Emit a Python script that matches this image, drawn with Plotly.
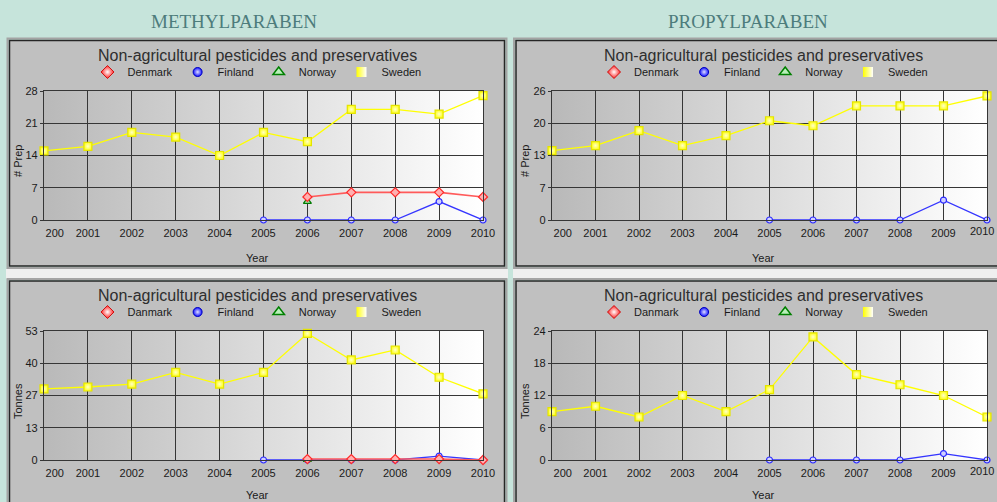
import base64
import plotly.graph_objects as go

W, H = 997, 502

# ---------------- data ----------------
YEARS = [2000, 2001, 2002, 2003, 2004, 2005, 2006, 2007, 2008, 2009, 2010]
YEAR_LABELS = ["200", "2001", "2002", "2003", "2004", "2005", "2006", "2007", "2008", "2009", "2010"]

# Methylparaben - number of preparations
methyl_prep_sweden = [15, 16, 19, 18, 14, 19, 17, 24, 24, 23, 27]
methyl_prep_denmark = [None, None, None, None, None, None, 5, 6, 6, 6, 5]
methyl_prep_finland = [None, None, None, None, None, 0, 0, 0, 0, 4, 0]
methyl_prep_norway = [None, None, None, None, None, None, 4, None, None, None, None]

# Propylparaben - number of preparations
propyl_prep_sweden = [14, 15, 18, 15, 17, 20, 19, 23, 23, 23, 25]
propyl_prep_denmark = [None] * 11
propyl_prep_finland = [None, None, None, None, None, 0, 0, 0, 0, 4, 0]
propyl_prep_norway = [None] * 11

# Methylparaben - tonnes
methyl_tonnes_sweden = [29.2, 30, 31.2, 36, 31.2, 36, 52, 41.1, 45.2, 34, 27.2]
methyl_tonnes_denmark = [None, None, None, None, None, None, 0.4, 0.4, 0.4, 0.4, 0]
methyl_tonnes_finland = [None, None, None, None, None, 0, 0, 0, 0, 1.6, 0]
methyl_tonnes_norway = [None, None, None, None, None, None, 0.1, None, None, None, None]

# Propylparaben - tonnes
propyl_tonnes_sweden = [9, 10, 8, 12, 9, 13.1, 22.9, 15.9, 14, 12, 8]
propyl_tonnes_denmark = [None] * 11
propyl_tonnes_finland = [None, None, None, None, None, 0, 0, 0, 0, 1.2, 0]
propyl_tonnes_norway = [None] * 11

# y-axis ticks
methyl_prep_ticks = [0, 7, 14, 21, 28]
methyl_prep_ticklabels = ["0", "7", "14", "21", "28"]
propyl_prep_ticks = [0, 6.5, 13, 19.5, 26]
propyl_prep_ticklabels = ["0", "7", "13", "20", "26"]
methyl_tonnes_ticks = [0, 13.25, 26.5, 39.75, 53]
methyl_tonnes_ticklabels = ["0", "13", "27", "40", "53"]
propyl_tonnes_ticks = [0, 6, 12, 18, 24]
propyl_tonnes_ticklabels = ["0", "6", "12", "18", "24"]

CHART_TITLE = "Non-agricultural pesticides and preservatives"
HEADINGS = ["METHYLPARABEN", "PROPYLPARABEN"]

# ---------------- styling / layout ----------------
FONT = "Liberation Sans"
PAGE_BG = "#c6e4db"
PANEL_BG = "#c0c0c0"
GRID = "#363636"
NBSP = "\u00a0"

def fx(p):
    return p / W

def fy(p):
    return 1 - p / H

x_ticktext_left = [NBSP * 7 + YEAR_LABELS[0]] + YEAR_LABELS[1:]
# right-hand panels: last label is drawn as an edge-anchored annotation so it stays on the page
x_ticktext_right = [NBSP * 7 + YEAR_LABELS[0]] + YEAR_LABELS[1:-1] + [""]

panels = [
    dict(ax="", leg="legend", plot=(44, 91, 483, 220), cx=257, top=55.5, legy=72,
         ytitle="# Prep", ytx=18, yty=161, xty=258, denmark="Denmark", right=False,
         ticks=methyl_prep_ticks, ticklabels=methyl_prep_ticklabels,
         data=(methyl_prep_denmark, methyl_prep_finland, methyl_prep_norway, methyl_prep_sweden)),
    dict(ax="2", leg="legend2", plot=(552, 91, 987, 220), cx=763.5, top=55.5, legy=72,
         ytitle="# Prep", ytx=525, yty=161, xty=258, denmark="Denmark", right=True,
         ticks=propyl_prep_ticks, ticklabels=propyl_prep_ticklabels,
         data=(propyl_prep_denmark, propyl_prep_finland, propyl_prep_norway, propyl_prep_sweden)),
    dict(ax="3", leg="legend3", plot=(44, 331, 483, 460), cx=257, top=295.5, legy=312,
         ytitle="Tonnes", ytx=18, yty=401, xty=494.5, denmark="Danmark", right=False,
         ticks=methyl_tonnes_ticks, ticklabels=methyl_tonnes_ticklabels,
         data=(methyl_tonnes_denmark, methyl_tonnes_finland, methyl_tonnes_norway, methyl_tonnes_sweden)),
    dict(ax="4", leg="legend4", plot=(552, 331, 987, 460), cx=763.5, top=295.5, legy=312,
         ytitle="Tonnes", ytx=525, yty=401, xty=494.5, denmark="Danmark", right=True,
         ticks=propyl_tonnes_ticks, ticklabels=propyl_tonnes_ticklabels,
         data=(propyl_tonnes_denmark, propyl_tonnes_finland, propyl_tonnes_norway, propyl_tonnes_sweden)),
]

grad_svg = ('<svg xmlns="http://www.w3.org/2000/svg" width="200" height="20" viewBox="0 0 200 20" '
            'preserveAspectRatio="none"><defs><linearGradient id="g" x1="0" y1="0" x2="1" y2="0">'
            '<stop offset="0" stop-color="#b9b9b9"/><stop offset="1" stop-color="#ffffff"/>'
            '</linearGradient></defs><rect width="200" height="20" fill="url(#g)"/></svg>')
GRAD_SRC = "data:image/svg+xml;base64," + base64.b64encode(grad_svg.encode()).decode()

fig = go.Figure()
layout = dict(
    width=W, height=H, autosize=False,
    margin=dict(l=0, r=0, t=0, b=0, pad=0, autoexpand=False),
    paper_bgcolor=PAGE_BG, plot_bgcolor="rgba(0,0,0,0)",
    font=dict(family=FONT, size=11, color="#1a1a1a"),
    showlegend=True,
)
annotations = []
shapes = []
images = []

# page panels (frames)
frames = [
    (9.5, 40.5, 504.5, 266),     # top-left
    (516, 40.5, 1012, 266),      # top-right
    (9.5, 281, 504.5, 515),      # bottom-left
    (516, 281, 1012, 515),       # bottom-right
]
# light strip between rows
shapes.append(dict(type="rect", xref="paper", yref="paper", layer="below",
                   x0=fx(6), x1=fx(508), y0=fy(269), y1=fy(279),
                   fillcolor="#efefef", line=dict(width=0)))
shapes.append(dict(type="rect", xref="paper", yref="paper", layer="below",
                   x0=fx(513), x1=fx(1000), y0=fy(269), y1=fy(279),
                   fillcolor="#efefef", line=dict(width=0)))
for (x0, y0, x1, y1) in frames:
    shapes.append(dict(type="rect", xref="paper", yref="paper", layer="below",
                       x0=fx(x0 - 2), x1=fx(x1 + 2), y0=fy(y0 - 2), y1=fy(y1 + 2),
                       fillcolor="rgba(0,0,0,0)", line=dict(color="#a4a4a4", width=2)))
    shapes.append(dict(type="rect", xref="paper", yref="paper", layer="below",
                       x0=fx(x0), x1=fx(x1), y0=fy(y0), y1=fy(y1),
                       fillcolor=PANEL_BG, line=dict(color="#262626", width=1.5)))

# headings
for text, cx in zip(HEADINGS, [234, 748]):
    annotations.append(dict(text=text, x=fx(cx), y=fy(22), xref="paper", yref="paper",
                            showarrow=False, xanchor="center", yanchor="middle",
                            font=dict(family="Liberation Serif", size=19, color="#4d7c7c")))

for p in panels:
    ax = p["ax"]
    xname, yname = "x" + ax, "y" + ax
    x0, y0, x1, y1 = p["plot"]
    dk, fi, no, sw = p["data"]
    leg = p["leg"]

    # series
    fig.add_trace(go.Scatter(x=YEARS, y=fi, xaxis=xname, yaxis=yname, mode="lines+markers",
                             name="Finland", showlegend=False, cliponaxis=False,
                             line=dict(color="#3535ff", width=1.3),
                             marker=dict(symbol="circle", size=6, color="#d0d0ff",
                                         line=dict(color="#2a2aff", width=1.2))))
    fig.add_trace(go.Scatter(x=YEARS, y=no, xaxis=xname, yaxis=yname, mode="lines+markers",
                             name="Norway", showlegend=False, cliponaxis=False,
                             line=dict(color="#008a00", width=1.3),
                             marker=dict(symbol="triangle-up", size=7, color="#b0e8b0",
                                         line=dict(color="#007a00", width=1.2))))
    fig.add_trace(go.Scatter(x=YEARS, y=dk, xaxis=xname, yaxis=yname, mode="lines+markers",
                             name=p["denmark"], showlegend=False, cliponaxis=False,
                             line=dict(color="#ff5a5a", width=1.6),
                             marker=dict(symbol="diamond", size=7, color="#ffb0b0",
                                         line=dict(color="#ff2a2a", width=1.2))))
    fig.add_trace(go.Scatter(x=YEARS, y=sw, xaxis=xname, yaxis=yname, mode="lines+markers",
                             name="Sweden", showlegend=False, cliponaxis=False,
                             line=dict(color="#ffff00", width=1.3),
                             marker=dict(symbol="square", size=8, color="#ffff20",
                                         gradient=dict(type="radial", color="#ffffc8"),
                                         line=dict(color="#e4e400", width=1.2))))

    # legend entries (marker only, as in the original)
    fig.add_trace(go.Scatter(x=[None], y=[None], xaxis=xname, yaxis=yname, mode="markers",
                             name=p["denmark"], legend=leg,
                             marker=dict(symbol="diamond", size=10, color="#ff2020",
                                         gradient=dict(type="radial", color="#ffffff"),
                                         line=dict(color="#d01010", width=1))))
    fig.add_trace(go.Scatter(x=[None], y=[None], xaxis=xname, yaxis=yname, mode="markers",
                             name="Finland", legend=leg,
                             marker=dict(symbol="circle", size=9, color="#1515ff",
                                         gradient=dict(type="radial", color="#e0e0ff"),
                                         line=dict(color="#0000c0", width=1))))
    fig.add_trace(go.Scatter(x=[None], y=[None], xaxis=xname, yaxis=yname, mode="markers",
                             name="Norway", legend=leg,
                             marker=dict(symbol="triangle-up", size=10, color="#b8f0b8",
                                         line=dict(color="#008000", width=1.5))))
    fig.add_trace(go.Scatter(x=[None], y=[None], xaxis=xname, yaxis=yname, mode="markers",
                             name="Sweden", legend=leg,
                             marker=dict(symbol="square", size=10, color="#ffff00",
                                         gradient=dict(type="horizontal", color="#ffffff"),
                                         line=dict(width=0))))

    layout[leg] = dict(orientation="h", xref="paper", yref="paper",
                       x=fx(p["cx"]), y=fy(p["legy"]), xanchor="center", yanchor="middle",
                       bgcolor="rgba(0,0,0,0)", borderwidth=0,
                       font=dict(family=FONT, size=11, color="#1a1a1a"),
                       itemwidth=30, tracegroupgap=0)

    xkey = "xaxis" + ax
    ykey = "yaxis" + ax
    layout[xkey] = dict(domain=[fx(x0), fx(x1)], anchor=yname, range=[YEARS[0], YEARS[-1]],
                        tickmode="array", tickvals=YEARS,
                        ticktext=x_ticktext_right if p["right"] else x_ticktext_left,
                        showgrid=True, gridcolor=GRID, gridwidth=1.3,
                        showline=True, mirror=True, linecolor=GRID, linewidth=1.3,
                        zeroline=False, ticks="", fixedrange=True, automargin=False,
                        ticklabeloverflow="allow",
                        tickfont=dict(family=FONT, size=11, color="#1a1a1a"),
                        ticklabelstandoff=3)
    layout[ykey] = dict(domain=[fy(y1), fy(y0)], anchor=xname,
                        range=[p["ticks"][0], p["ticks"][-1]],
                        tickmode="array", tickvals=p["ticks"], ticktext=p["ticklabels"],
                        showgrid=True, gridcolor=GRID, gridwidth=1.3,
                        showline=True, mirror=True, linecolor=GRID, linewidth=1.3,
                        zeroline=False, ticks="outside", ticklen=3, tickcolor=GRID,
                        fixedrange=True, automargin=False, ticklabeloverflow="allow",
                        tickfont=dict(family=FONT, size=11, color="#1a1a1a"))

    if p["right"]:
        annotations.append(dict(text=YEAR_LABELS[-1], xref=xname, x=YEARS[-1],
                                yref=yname + " domain", y=0, xanchor="right", yanchor="top",
                                xshift=9, yshift=-3, showarrow=False, borderpad=1,
                                font=dict(family=FONT, size=11, color="#1a1a1a")))

    images.append(dict(source=GRAD_SRC, xref=xname + " domain", yref=yname + " domain",
                       x=0, y=1, sizex=1, sizey=1, xanchor="left", yanchor="top",
                       sizing="stretch", layer="below"))

    annotations.append(dict(text=CHART_TITLE, x=fx(p["cx"]), y=fy(p["top"]),
                            xref="paper", yref="paper", showarrow=False,
                            xanchor="center", yanchor="middle",
                            font=dict(family=FONT, size=16, color="#2e2e2e")))
    annotations.append(dict(text=p["ytitle"], x=fx(p["ytx"]), y=fy(p["yty"]),
                            xref="paper", yref="paper", showarrow=False, textangle=-90,
                            xanchor="center", yanchor="middle",
                            font=dict(family=FONT, size=11, color="#1a1a1a")))
    annotations.append(dict(text="Year", x=fx(p["cx"]), y=fy(p["xty"]),
                            xref="paper", yref="paper", showarrow=False,
                            xanchor="center", yanchor="middle",
                            font=dict(family=FONT, size=11, color="#1a1a1a")))

layout["annotations"] = annotations
layout["shapes"] = shapes
layout["images"] = images
fig.update_layout(**layout)

fig.write_html(
    "out.html",
    config={"displayModeBar": False, "responsive": False},
    post_script="document.body.style.margin='0';document.body.style.padding='0';"
                "document.body.style.overflow='hidden';"
                "document.documentElement.style.overflow='hidden';",
)
